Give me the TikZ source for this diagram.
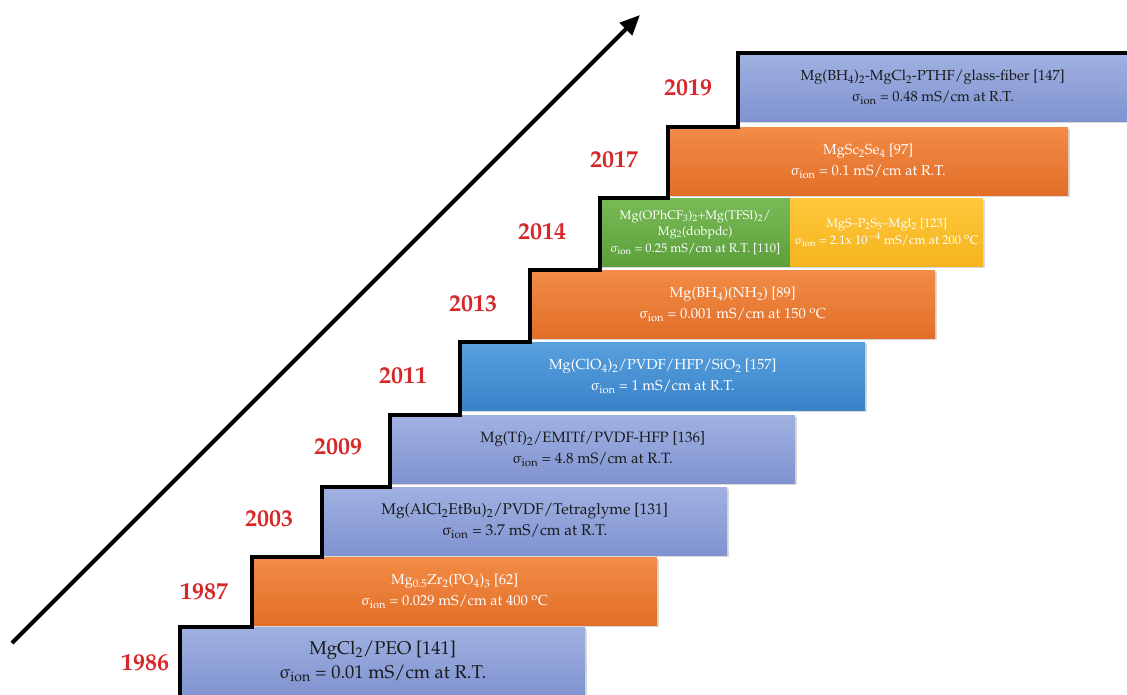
\documentclass[tikz,border=0pt]{standalone}
\usepackage[T1]{fontenc}
\usepackage{mathpazo}
\usepackage{upgreek}
\usetikzlibrary{arrows.meta,shadows}

\definecolor{lavtop}{RGB}{160,177,225}
\definecolor{lavbot}{RGB}{128,147,208}
\definecolor{orgtop}{RGB}{242,140,70}
\definecolor{orgbot}{RGB}{226,110,40}
\definecolor{blutop}{RGB}{88,160,222}
\definecolor{blubot}{RGB}{56,130,200}
\definecolor{grntop}{RGB}{120,186,86}
\definecolor{grnbot}{RGB}{92,160,60}
\definecolor{ylwtop}{RGB}{255,200,60}
\definecolor{ylwbot}{RGB}{244,180,30}
\definecolor{yearred}{RGB}{214,40,42}

\newcommand{\sion}{$\upsigma_{\mathrm{ion}}$}

\begin{document}
\begin{tikzpicture}[x=1pt,y=-1pt]

  \tikzstyle{stepbox}=[anchor=north west,minimum height=68,minimum width=405,inner sep=2pt,align=center,
    drop shadow={shadow xshift=2pt,shadow yshift=-2pt,opacity=0.3},font=\fontsize{15}{21}\selectfont]
  \tikzstyle{lav}=[stepbox,top color=lavtop,bottom color=lavbot,text=black!90]
  \tikzstyle{org}=[stepbox,top color=orgtop,bottom color=orgbot,text=white]
  \tikzstyle{blu}=[stepbox,top color=blutop,bottom color=blubot,text=white]
  \tikzstyle{year}=[text=yearred,font=\fontsize{24}{26}\selectfont\bfseries]

  \useasboundingbox (0,0) rectangle (1127,695);

  % the steps
  \node[lav,font=\fontsize{18.5}{24}\selectfont] (b1986) at (180,627)
    {MgCl$_2$/PEO [141]\\\sion{} = 0.01 mS/cm at R.T.};
  \node[org,font=\fontsize{14.5}{21}\selectfont] (b1987) at (252,557)
    {Mg$_{0.5}$Zr$_2$(PO$_4$)$_3$ [62]\\\sion{} = 0.029 mS/cm at 400 $^{\mathrm{o}}$C};
  \node[lav,font=\fontsize{15.5}{21}\selectfont] (b2003) at (322,487)
    {Mg(AlCl$_2$EtBu)$_2$/PVDF/Tetraglyme [131]\\\sion{} = 3.7 mS/cm at R.T.};
  \node[lav] (b2009) at (390,415)
    {Mg(Tf)$_2$/EMITf/PVDF-HFP [136]\\\sion{} = 4.8 mS/cm at R.T.};
  \node[blu,font=\fontsize{14.5}{21}\selectfont] (b2011) at (460,342)
    {Mg(ClO$_4$)$_2$/PVDF/HFP/SiO$_2$ [157]\\\sion{} = 1 mS/cm at R.T.};
  \node[org,font=\fontsize{14.5}{21}\selectfont] (b2013) at (530,270)
    {Mg(BH$_4$)(NH$_2$) [89]\\\sion{} = 0.001 mS/cm at 150 $^{\mathrm{o}}$C};
  \node[stepbox,top color=grntop,bottom color=grnbot,text=white,minimum width=190,
    font=\fontsize{12.5}{16.5}\selectfont] (b2014) at (600,198)
    {Mg(OPhCF$_3$)$_2$+Mg(TFSI)$_2$/\\Mg$_2$(dobpdc)\\\sion{} = 0.25 mS/cm at R.T. [110]};
  \node[stepbox,top color=ylwtop,bottom color=ylwbot,text=white,minimum width=193,
    font=\fontsize{12.5}{17}\selectfont] (b2014b) at (790,198)
    {MgS--P$_2$S$_5$--MgI$_2$ [123]\\\sion{} = 2.1x 10$^{-4}$ mS/cm at 200 $^{\mathrm{o}}$C};
  \node[org,minimum width=400,font=\fontsize{14.5}{21}\selectfont] (b2017) at (668,127)
    {MgSc$_2$Se$_4$ [97]\\\sion{} = 0.1 mS/cm at R.T.};
  \node[lav,minimum width=389,font=\fontsize{14.5}{21}\selectfont] (b2019) at (738,53)
    {Mg(BH$_4$)$_2$-MgCl$_2$-PTHF/glass-fiber [147]\\\sion{} = 0.48 mS/cm at R.T.};

  % years
  \node[year] (y1986) at (145,663) {1986};
  \node[year] (y1987) at (204,592) {1987};
  \node[year] (y2003) at (269,519) {2003};
  \node[year] (y2009) at (338,447) {2009};
  \node[year] (y2011) at (403,376) {2011};
  \node[year] (y2013) at (473,304) {2013};
  \node[year] (y2014) at (542,232) {2014};
  \node[year] (y2017) at (614,160) {2017};
  \node[year] (y2019) at (688,88) {2019};

  % staircase outline
  \draw[line width=3.5,xshift=-1.5] (b1986.south west) -- (b1986.north west)
    -| (b1987.south west) -- (b1987.north west)
    -| (b2003.south west) -- (b2003.north west)
    -| (b2009.south west) -- (b2009.north west)
    -| (b2011.south west) -- (b2011.north west)
    -| (b2013.south west) -- (b2013.north west)
    -| (b2014.south west) -- (b2014.north west)
    -| (b2017.south west) -- (b2017.north west)
    -| (b2019.south west) -- (b2019.north west) -- ([xshift=1.5]b2019.north east);

  % time arrow
  \coordinate (tail) at (12,643);
  \coordinate (head) at (640,15);
  \draw[line width=4,-{Triangle[length=20,width=17]}] (tail) -- (head);

  %\draw[step=50,gray,very thin] (0,0) grid (1127,695);

\end{tikzpicture}
\end{document}
